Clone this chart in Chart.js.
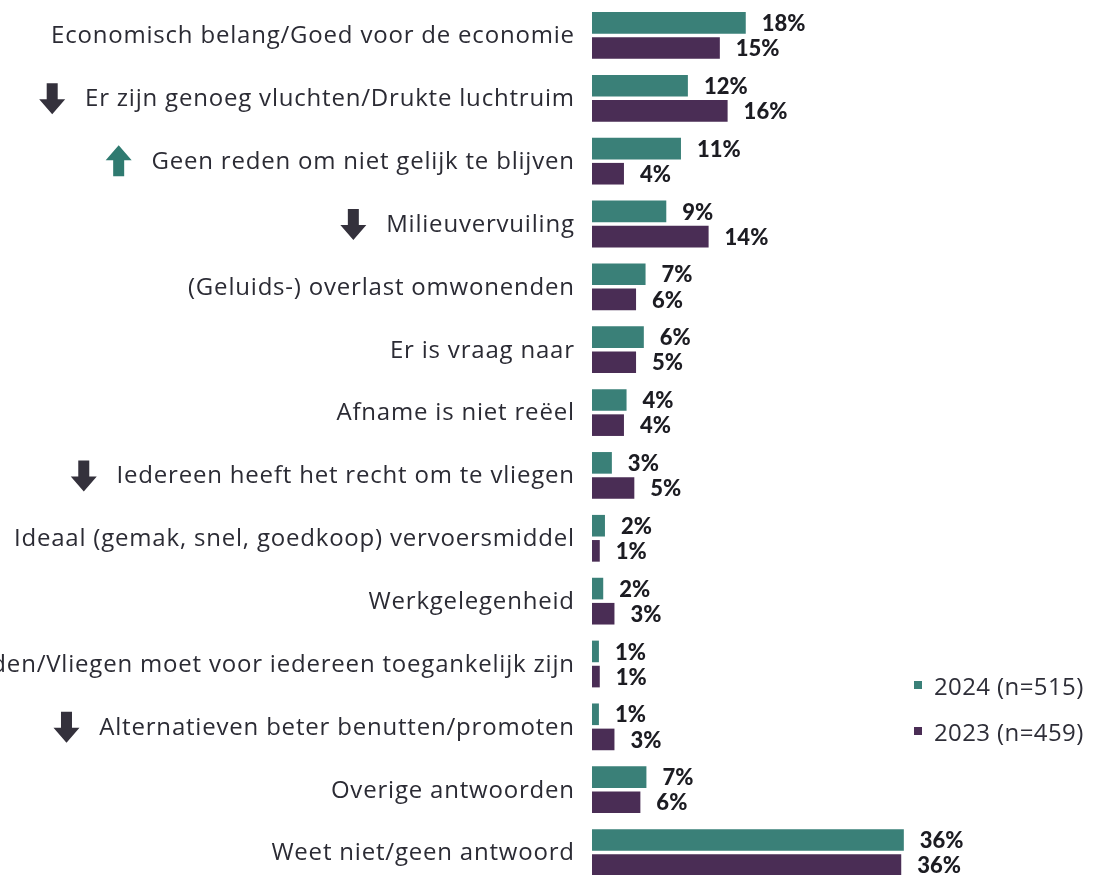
<!DOCTYPE html>
<html lang="nl">
<head>
    <meta charset="UTF-8">
    <title>Redenen luchtvaart</title>
    <script src="https://cdn.jsdelivr.net/npm/chart.js"></script>
    <style>
        html, body {
            margin: 0;
            padding: 0;
            background: #ffffff;
            overflow: hidden;
        }
        .wrap {
            position: relative;
            width: 1094px;
            height: 875px;
            overflow: hidden;
        }
        #myChart {
            position: absolute;
            left: 0;
            top: 0;
        }
        .legend {
            position: absolute;
            left: 914px;
            top: 662px;
            margin: 0;
            padding: 0;
            list-style: none;
            font-family: "Open Sans", sans-serif;
            font-size: 24px;
            letter-spacing: 0.4px;
            color: #2e2e38;
        }
        .legend-item {
            display: flex;
            align-items: center;
            height: 46px;
        }
        .legend-color-box {
            width: 8px;
            height: 8px;
            margin-right: 12px;
        }
    </style>
</head>
<body>

<div class="wrap">
    <canvas id="myChart" width="1094" height="884"></canvas>
    <ul class="legend" id="legend"></ul>
</div>

<script>
    const categories = [
        "Economisch belang/Goed voor de economie",
        "Er zijn genoeg vluchten/Drukte luchtruim",
        "Geen reden om niet gelijk te blijven",
        "Milieuvervuiling",
        "(Geluids-) overlast omwonenden",
        "Er is vraag naar",
        "Afname is niet reëel",
        "Iedereen heeft het recht om te vliegen",
        "Ideaal (gemak, snel, goedkoop) vervoersmiddel",
        "Werkgelegenheid",
        "den/Vliegen moet voor iedereen toegankelijk zijn",
        "Alternatieven beter benutten/promoten",
        "Overige antwoorden",
        "Weet niet/geen antwoord"
    ];
    // trend arrow shown in front of the label
    const trends = ["", "down", "up", "down", "", "", "", "down", "", "", "", "down", "", ""];

    // bar lengths
    const values2024 = [17.8, 11.1, 10.3, 8.6, 6.2, 6.0, 4.0, 2.3, 1.5, 1.3, 0.8, 0.8, 6.3, 36.1];
    const values2023 = [14.8, 15.7, 3.7, 13.5, 5.1, 5.1, 3.7, 4.9, 0.9, 2.6, 0.9, 2.6, 5.6, 35.8];
    // printed percentages
    const labels2024 = [18, 12, 11, 9, 7, 6, 4, 3, 2, 2, 1, 1, 7, 36];
    const labels2023 = [15, 16, 4, 14, 6, 5, 4, 5, 1, 3, 1, 3, 6, 36];

    const seriesNames = ["2024 (n=515)", "2023 (n=459)"];
    const seriesColors = ["#3a8078", "#4a2d55"];

    const labelFont = "24px 'Open Sans', sans-serif";
    const labelSpacing = 0.8;
    const valueFont = "900 22px Lato, sans-serif";

    // category labels, trend arrows and value labels
    const extrasPlugin = {
        id: 'extras',
        afterDatasetsDraw(chart) {
            const ctx = chart.ctx;
            const printed = [labels2024, labels2023];
            ctx.save();
            ctx.font = valueFont;
            ctx.fillStyle = '#1c1c22';
            ctx.textAlign = 'left';
            ctx.textBaseline = 'middle';
            chart.data.datasets.forEach((ds, d) => {
                chart.getDatasetMeta(d).data.forEach((bar, i) => {
                    ctx.fillText(printed[d][i] + '%', bar.x + 16, bar.y + 1);
                });
            });

            const yScale = chart.scales.y;
            const textRight = yScale.right - 18;
            ctx.font = labelFont;
            ctx.letterSpacing = labelSpacing + 'px';
            ctx.textAlign = 'right';
            categories.forEach((c, i) => {
                const cy = yScale.getPixelForTick(i);
                ctx.fillStyle = '#2b2b34';
                ctx.fillText(c, textRight + labelSpacing, cy + 1);

                const t = trends[i];
                if (!t) return;
                const w = ctx.measureText(c).width;
                const cx = textRight - w - 32;
                ctx.fillStyle = t === 'up' ? '#2f7a70' : '#34313c';
                ctx.beginPath();
                if (t === 'down') {
                    ctx.moveTo(cx - 5.5, cy - 15);
                    ctx.lineTo(cx + 5.5, cy - 15);
                    ctx.lineTo(cx + 5.5, cy + 1);
                    ctx.lineTo(cx + 13, cy + 1);
                    ctx.lineTo(cx, cy + 16);
                    ctx.lineTo(cx - 13, cy + 1);
                    ctx.lineTo(cx - 5.5, cy + 1);
                } else {
                    ctx.moveTo(cx - 5.5, cy + 15);
                    ctx.lineTo(cx + 5.5, cy + 15);
                    ctx.lineTo(cx + 5.5, cy - 1);
                    ctx.lineTo(cx + 13, cy - 1);
                    ctx.lineTo(cx, cy - 16);
                    ctx.lineTo(cx - 13, cy - 1);
                    ctx.lineTo(cx - 5.5, cy - 1);
                }
                ctx.closePath();
                ctx.fill();
            });
            ctx.restore();
        }
    };

    const ctx = document.getElementById('myChart').getContext('2d');

    new Chart(ctx, {
        type: 'bar',
        data: {
            labels: categories,
            datasets: [
                { label: seriesNames[0], data: values2024, backgroundColor: seriesColors[0] },
                { label: seriesNames[1], data: values2023, backgroundColor: seriesColors[1] }
            ]
        },
        options: {
            indexAxis: 'y',
            responsive: false,
            animation: false,
            categoryPercentage: 0.8,
            barPercentage: 0.86,
            layout: { padding: { top: 4, right: 1, bottom: 0, left: 0 } },
            plugins: {
                legend: { display: false },
                tooltip: { enabled: false }
            },
            scales: {
                x: {
                    display: false,
                    min: 0,
                    max: 58
                },
                y: {
                    grid: { display: false, drawTicks: false },
                    border: { display: false },
                    ticks: { display: false },
                    afterFit(scale) {
                        scale.width = 592;
                    }
                }
            }
        },
        plugins: [extrasPlugin]
    });

    // custom legend bottom right
    function createLegend() {
        const legendContainer = document.getElementById('legend');
        seriesNames.forEach((name, index) => {
            const listItem = document.createElement('li');
            listItem.classList.add('legend-item');

            const colorBox = document.createElement('div');
            colorBox.classList.add('legend-color-box');
            colorBox.style.backgroundColor = seriesColors[index];

            const legendText = document.createElement('span');
            legendText.textContent = name;

            listItem.appendChild(colorBox);
            listItem.appendChild(legendText);
            legendContainer.appendChild(listItem);
        });
    }

    createLegend();
</script>

</body>
</html>
